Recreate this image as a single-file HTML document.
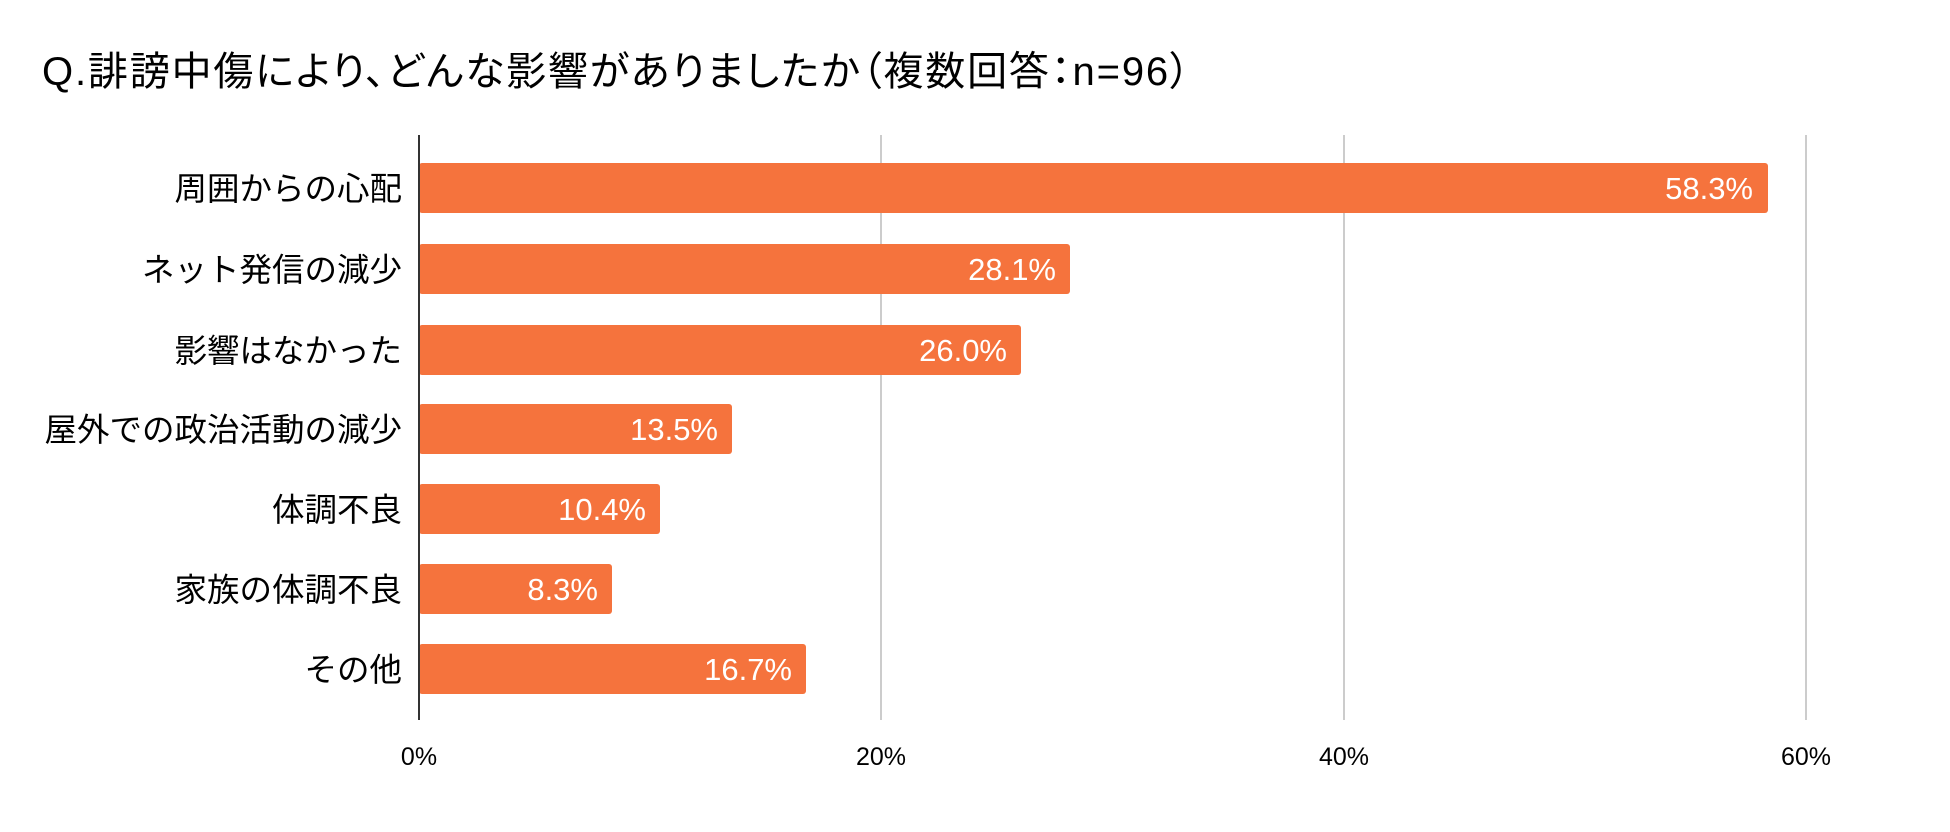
<!DOCTYPE html>
<html><head><meta charset="utf-8"><style>
body{margin:0;background:#fff;}
svg text{font-family:"Liberation Sans","Noto Sans CJK JP",sans-serif;}
.t{font-feature-settings:"palt";}
</style></head><body>
<svg width="1950" height="827" viewBox="0 0 1950 827" xmlns="http://www.w3.org/2000/svg">
<rect width="1950" height="827" fill="#fff"/>
<text class="t" x="42" y="85" font-size="40" fill="#000" textLength="1148" lengthAdjust="spacing">Q.誹謗中傷により、どんな影響がありましたか（複数回答：n=96）</text>
<g stroke="#cccccc" stroke-width="2">
<line x1="881" y1="135" x2="881" y2="720"/>
<line x1="1344" y1="135" x2="1344" y2="720"/>
<line x1="1806" y1="135" x2="1806" y2="720"/>
</g>
<g fill="#f5733d">
<rect x="419" y="163" width="1349" height="50" rx="3"/>
<rect x="419" y="244" width="651" height="50" rx="3"/>
<rect x="419" y="325" width="602" height="50" rx="3"/>
<rect x="419" y="404" width="313" height="50" rx="3"/>
<rect x="419" y="484" width="241" height="50" rx="3"/>
<rect x="419" y="564" width="193" height="50" rx="3"/>
<rect x="419" y="644" width="387" height="50" rx="3"/>
</g>
<line x1="419" y1="135" x2="419" y2="720" stroke="#333" stroke-width="2"/>
<g font-size="32.5" fill="#000" text-anchor="end">
<text x="402" y="200">周囲からの心配</text>
<text x="402" y="281">ネット発信の減少</text>
<text x="402" y="362">影響はなかった</text>
<text x="402" y="441">屋外での政治活動の減少</text>
<text x="402" y="521">体調不良</text>
<text x="402" y="601">家族の体調不良</text>
<text x="402" y="681">その他</text>
</g>
<g font-size="31" fill="#fff" text-anchor="end">
<text x="1753" y="199">58.3%</text>
<text x="1056" y="280">28.1%</text>
<text x="1007" y="361">26.0%</text>
<text x="718" y="440">13.5%</text>
<text x="646" y="520">10.4%</text>
<text x="598" y="600">8.3%</text>
<text x="792" y="680">16.7%</text>
</g>
<g font-size="25" fill="#000" text-anchor="middle">
<text x="419" y="765">0%</text>
<text x="881" y="765">20%</text>
<text x="1344" y="765">40%</text>
<text x="1806" y="765">60%</text>
</g>
</svg>
</body></html>
